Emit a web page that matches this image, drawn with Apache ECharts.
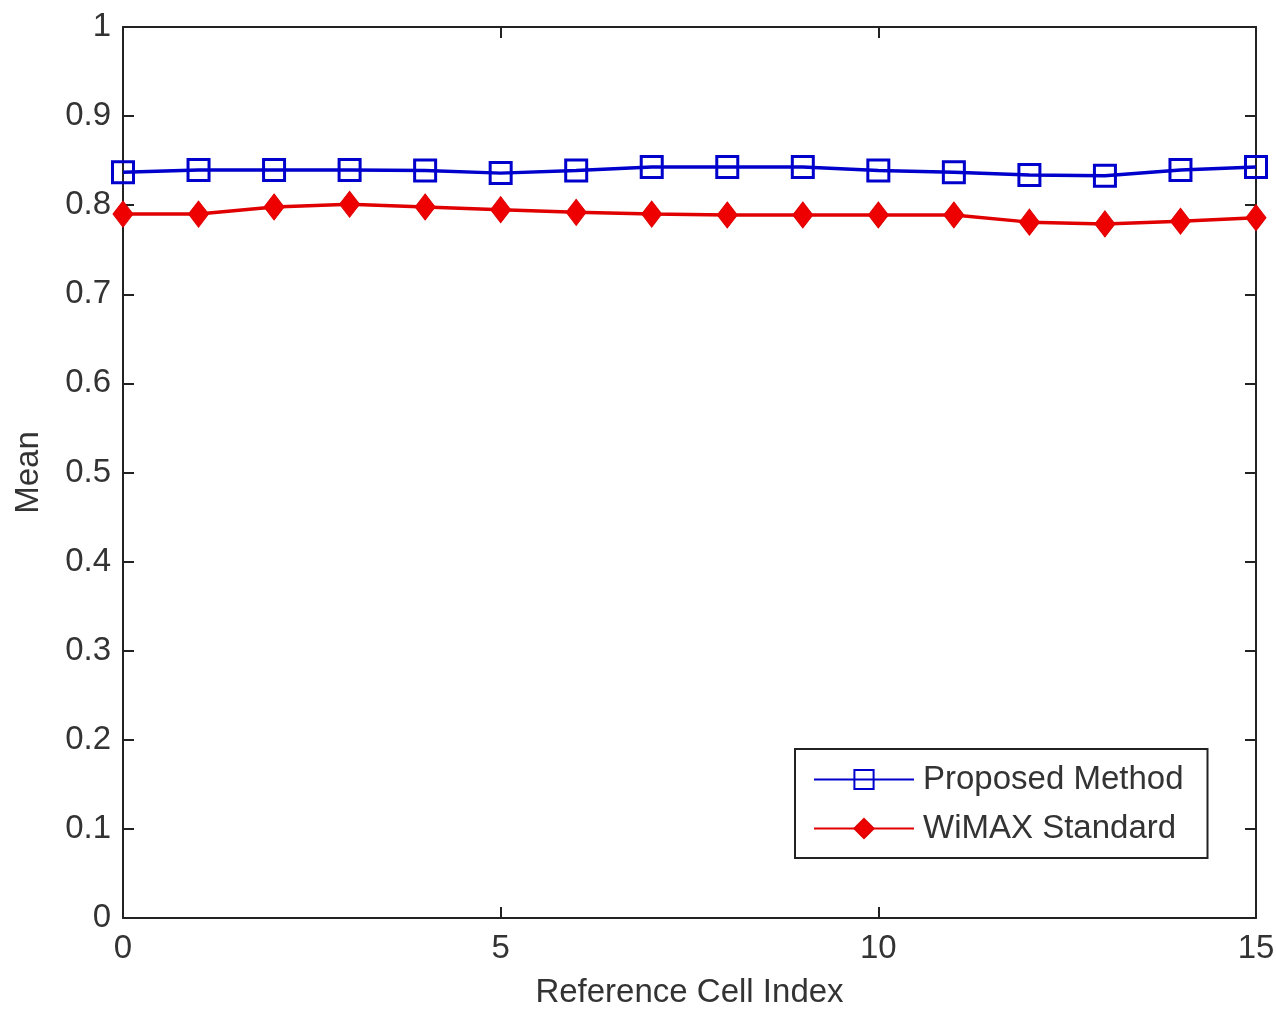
<!DOCTYPE html>
<html><head><meta charset="utf-8">
<script src="https://cdn.jsdelivr.net/npm/echarts@6/dist/echarts.min.js"></script>
<style>html,body{margin:0;padding:0;background:#fff}#c{width:1276px;height:1010px}</style>
</head><body><div id="c"></div>
<script>
const cellIndex = [0,1,2,3,4,5,6,7,8,9,10,11,12,13,14,15];
const proposed = [0.837,0.8395,0.8395,0.8395,0.839,0.836,0.839,0.843,0.843,0.843,0.839,0.837,0.834,0.833,0.8395,0.843];
const wimax = [0.790,0.790,0.798,0.801,0.798,0.795,0.792,0.790,0.789,0.789,0.789,0.789,0.781,0.779,0.782,0.786];
const yTicks = [0,0.1,0.2,0.3,0.4,0.5,0.6,0.7,0.8,0.9,1];

const font = 'Liberation Sans, Arial, sans-serif';
const txt = '#333';
const chart = echarts.init(document.getElementById('c'));
const mkLine = () => ({show:true, onZero:false, lineStyle:{color:'#222', width:2}});
const mkTick = () => ({show:true, inside:true, length:11, lineStyle:{color:'#222', width:2}});
chart.setOption({
  backgroundColor:'#fff',
  animation:false,
  grid:{left:123, top:27, right:20, bottom:92, show:false, containLabel:false, outerBoundsMode:'none'},
  xAxis:[{
    type:'value', min:0, max:15, interval:5, position:'bottom',
    axisLine:mkLine(), axisTick:mkTick(), splitLine:{show:false},
    axisLabel:{color:txt, fontSize:33, fontFamily:font, margin:14},
    name:'Reference Cell Index', nameLocation:'middle', nameGap:58,
    nameTextStyle:{color:txt, fontSize:33, fontFamily:font}
  },{
    type:'value', min:0, max:15, interval:5, position:'top',
    axisLine:mkLine(), axisTick:mkTick(), axisLabel:{show:false}, splitLine:{show:false}
  }],
  yAxis:[{
    type:'value', min:0, max:1, interval:0.1, position:'left',
    axisLine:mkLine(), axisTick:mkTick(), splitLine:{show:false},
    axisLabel:{color:txt, fontSize:33, fontFamily:font, margin:12,
      formatter:v=>{const t=yTicks.find(x=>Math.abs(x-v)<1e-9); return t===undefined?'':String(+t.toFixed(1));}},
    name:'Mean', nameLocation:'middle', nameGap:78,
    nameTextStyle:{color:txt, fontSize:33, fontFamily:font}
  },{
    type:'value', min:0, max:1, interval:0.1, position:'right',
    axisLine:mkLine(), axisTick:mkTick(), axisLabel:{show:false}, splitLine:{show:false}
  }],
  legend:{
    left:795, top:749, orient:'vertical',
    backgroundColor:'#fff', borderColor:'#222', borderWidth:2,
    padding:[14,24,13,18], itemGap:16, itemWidth:100, itemHeight:24,
    textStyle:{color:txt, fontSize:33, fontFamily:font, padding:[0,0,0,4]},
    data:['Proposed Method','WiMAX Standard']
  },
  series:[{
    name:'Proposed Method', type:'line',
    data:cellIndex.map((x,i)=>[x,proposed[i]]),
    symbol:'rect', symbolSize:21, showAllSymbol:true,
    lineStyle:{color:'#0000cc', width:3.5},
    itemStyle:{color:'transparent', borderColor:'#0000cc', borderWidth:3},
    z:3
  },{
    name:'WiMAX Standard', type:'line',
    data:cellIndex.map((x,i)=>[x,wimax[i]]),
    symbol:'diamond', symbolSize:[20,26], showAllSymbol:true,
    lineStyle:{color:'#e00000', width:3.5},
    itemStyle:{color:'#ee0000', borderColor:'#e00000', borderWidth:1},
    z:3
  }]
});
</script></body></html>
